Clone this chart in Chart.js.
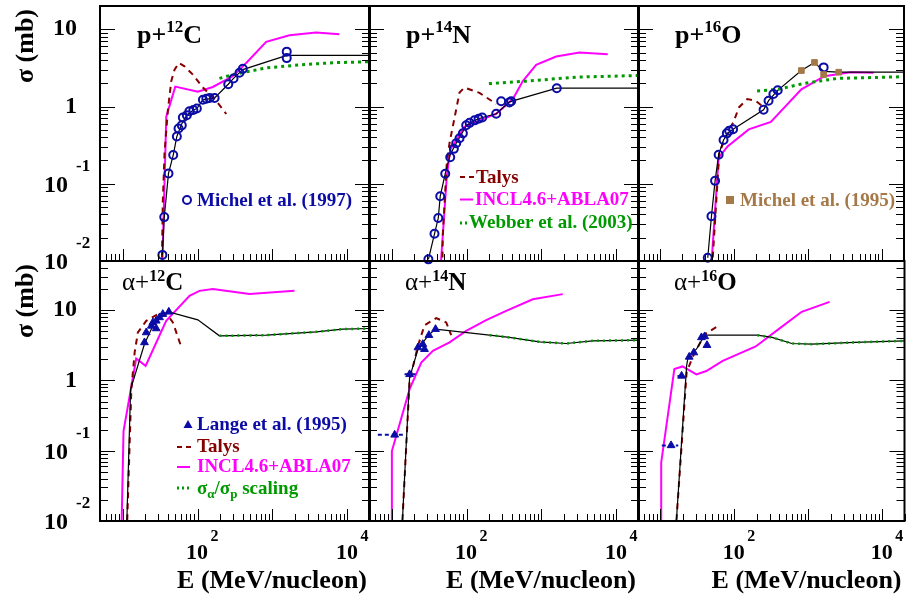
<!DOCTYPE html>
<html><head><meta charset="utf-8">
<script src="https://cdn.jsdelivr.net/npm/chart.js@4.4.1/dist/chart.umd.min.js"></script>
<style>
html,body{margin:0;padding:0;background:#fff;}
#wrap{position:relative;width:910px;height:599px;overflow:hidden;}
canvas.c{position:absolute;left:0;top:0;}
</style></head>
<body><div id="wrap">
<canvas class="c" id="c0" width="910" height="599"></canvas>
<canvas class="c" id="c1" width="910" height="599"></canvas>
<canvas class="c" id="c2" width="910" height="599"></canvas>
<canvas class="c" id="c3" width="910" height="599"></canvas>
<canvas class="c" id="c4" width="910" height="599"></canvas>
<canvas class="c" id="c5" width="910" height="599"></canvas>
</div>
<script>
// ---------------- DATA (E in MeV/nucleon, sigma in mb) ----------------
const xRange = [5, 20000];
const yRangeP = [0.01, 20];
const yRangeA = [0.01, 50];
const xTickLabels = [[100, '2'], [10000, '4']];
const yTickLabels = [[10, '10', ''], [1, '1', ''], [0.1, '10', '-1'], [0.01, '10', '-2']];
const panelTitles = [['p+', '12', 'C'], ['p+', '14', 'N'], ['p+', '16', 'O'], ['α+', '12', 'C'], ['α+', '14', 'N'], ['α+', '16', 'O']];

// p + 12C
const pC_michel_E = [34, 36, 41, 47.4, 53, 55.8, 61.7, 63.7, 72, 78, 88, 98, 118, 131, 145, 169, 257, 302, 363, 402, 1550, 1550];
const pC_michel_S = [0.012, 0.037, 0.136, 0.235, 0.41, 0.52, 0.57, 0.72, 0.77, 0.87, 0.9, 0.94, 1.22, 1.26, 1.29, 1.29, 1.94, 2.31, 2.73, 3.07, 5.13, 4.23];
const pC_fit_E = [34, 36, 41, 47.4, 53, 61.7, 72, 88, 98, 118, 169, 257, 302, 402, 1550, 20000];
const pC_fit_S = [0.012, 0.037, 0.136, 0.235, 0.41, 0.6, 0.77, 0.9, 0.94, 1.22, 1.29, 1.94, 2.31, 3.0, 4.6, 4.6];
const pC_talys_E = [33.4, 34.4, 36.3, 40.2, 44.6, 49.4, 56.4, 67.1, 86.7, 118, 177, 242];
const pC_talys_S = [0.008, 0.058, 0.25, 0.89, 2.13, 3.0, 3.66, 3.31, 2.59, 1.76, 1.19, 0.8];
const pC_incl_E = [33.8, 38.3, 50.5, 101, 160, 296, 446, 824, 1686, 3830, 7820];
const pC_incl_S = [0.008, 0.74, 1.81, 1.55, 1.79, 2.47, 3.66, 6.87, 8.35, 9.05, 8.6];
const pC_webber_E = [196, 296, 824, 2291, 6370, 20000];
const pC_webber_S = [2.31, 2.59, 3.16, 3.45, 3.69, 3.8];

// p + 14N
const pN_michel_E = [31, 37.4, 42, 44.6, 52, 60.6, 67.8, 72.8, 80.7, 89.4, 99, 110, 128, 145, 162, 249, 290, 374, 394, 1600];
const pN_michel_S = [0.0105, 0.0225, 0.036, 0.069, 0.135, 0.22, 0.283, 0.335, 0.388, 0.449, 0.572, 0.614, 0.662, 0.696, 0.722, 0.805, 1.17, 1.13, 1.17, 1.72];
const pN_fit_E = [31, 37.4, 42, 44.6, 52, 60.6, 72.8, 89.4, 99, 128, 162, 249, 374, 1600, 20000];
const pN_fit_S = [0.0105, 0.0225, 0.036, 0.069, 0.135, 0.24, 0.335, 0.47, 0.57, 0.66, 0.72, 0.805, 1.15, 1.73, 1.73];
const pN_talys_E = [47.5, 48.3, 54.6, 59.3, 80.7, 94, 149, 249];
const pN_talys_S = [0.008, 0.022, 0.187, 0.335, 1.52, 1.76, 1.5, 1.08];
const pN_incl_E = [45, 54.6, 60.6, 94, 149, 249, 415, 564, 849, 1570, 3210, 7660];
const pN_incl_S = [0.008, 0.126, 0.275, 0.547, 0.662, 0.805, 1.25, 2.13, 3.47, 4.44, 4.99, 4.75];
const pN_webber_E = [199, 625, 2900, 20000];
const pN_webber_S = [1.98, 2.13, 2.4, 2.52];

// p + 16O
const pO_michel97_E = [44, 49.4, 55.3, 61.8, 72, 79.8, 85.8, 97, 251, 293, 341, 390, 1633];
const pO_michel97_S = [0.011, 0.038, 0.109, 0.238, 0.369, 0.449, 0.486, 0.508, 0.906, 1.19, 1.45, 1.62, 3.21];
const pO_michel95_E = [815, 1227, 1633, 2616];
const pO_michel95_S = [2.92, 3.72, 2.59, 2.78];
const pO_fit_E = [44, 49.4, 55.3, 61.8, 72, 85.8, 97, 251, 293, 390, 815, 1227, 1633, 2616, 20000];
const pO_fit_S = [0.011, 0.038, 0.109, 0.238, 0.369, 0.47, 0.508, 0.906, 1.19, 1.62, 2.92, 3.72, 2.85, 2.78, 2.78];
const pO_talys_E = [50.4, 63, 77.4, 98, 117, 151, 195, 251];
const pO_talys_S = [0.008, 0.25, 0.41, 0.63, 0.98, 1.25, 1.19, 0.98];
const pO_incl_E = [48.9, 61.8, 81.5, 158, 315, 815, 1668, 3780, 7740];
const pO_incl_S = [0.008, 0.216, 0.304, 0.505, 0.63, 1.67, 2.47, 2.78, 2.73];
const pO_webber_E = [205, 398, 903, 2512, 20000];
const pO_webber_S = [1.59, 1.67, 2.0, 2.31, 2.43];

// alpha + 12C
const aC_lange_E = [19.6, 20.7, 24.2, 25.4, 28.1, 28.1, 31.1, 34.4, 41.4];
const aC_lange_S = [3.47, 4.81, 5.97, 6.68, 7.05, 5.48, 7.87, 8.77, 9.46];
const aC_fit_E = [11.2, 12.8, 19.6, 25.4, 31.1, 41.4, 101, 196, 824, 3830, 8650, 20000];
const aC_fit_S = [0.005, 0.75, 3.3, 6.0, 7.8, 9.46, 7.28, 4.31, 4.4, 4.91, 5.36, 5.48];
const aC_talys_E = [11.3, 13.1, 14.5, 16, 20.7, 31.1, 38.2, 46.9, 60.7];
const aC_talys_S = [0.005, 0.75, 2.5, 4.81, 7.05, 9.06, 9.06, 6.68, 3.0];
const aC_incl_E = [9.6, 10.3, 15.2, 20.3, 38.2, 78.2, 106, 160, 494, 1965];
const aC_incl_S = [0.005, 0.19, 2.05, 1.61, 7.05, 16, 18.8, 19.9, 16.9, 18.8];
const aC_scal_E = [196, 824, 3830, 8650, 20000];
const aC_scal_S = [4.31, 4.4, 4.91, 5.36, 5.48];

// alpha + 14N
const aN_lange_E = [11, 17.4, 22.5, 26.1, 27.5, 31.5, 38.6];
const aN_lange_S = [0.168, 1.22, 2.94, 3.28, 2.78, 4.4, 5.36];
const aN_errLo_E = [6.56, 14.9];
const aN_errHi_E = [14.9, 21.4];
const aN_fit_E = [13.5, 17.4, 22.5, 30.5, 38.6, 203, 374, 940, 2130, 4830, 20000];
const aN_fit_S = [0.005, 1.1, 2.78, 4.31, 5.36, 4.4, 4.09, 3.54, 3.35, 3.66, 3.74];
const aN_talys_E = [13.5, 17.4, 22.5, 27.5, 39.4, 53.6, 62.5];
const aN_talys_S = [0.005, 1.0, 3.1, 6.1, 7.69, 6.68, 4.4];
const aN_incl_E = [10.1, 10.1, 17.4, 24.9, 35.6, 59.3, 99, 183, 338, 766, 1923];
const aN_incl_S = [0.005, 0.099, 0.75, 1.8, 2.63, 3.47, 5.07, 7.21, 9.77, 14.3, 16.9];
const aN_scal_E = [203, 374, 940, 2130, 4830, 20000];
const aN_scal_S = [4.4, 4.09, 3.54, 3.35, 3.66, 3.74];

// alpha + 16O
const aO_lange_E = [14, 19.4, 24.6, 28.4, 36, 39.8, 42.8];
const aO_lange_S = [0.119, 1.16, 2.16, 2.49, 4.09, 4.22, 3.17];
const aO_errLo_E = [10.5, 17.1];
const aO_errHi_E = [17.5, 21.5];
const aO_fit_E = [15.8, 22.7, 23.9, 30.8, 39.8, 205, 324, 600, 1107, 4190, 20000];
const aO_fit_S = [0.005, 1.61, 2.23, 2.78, 4.4, 4.4, 4.09, 3.35, 3.28, 3.47, 3.66];
const aO_talys_E = [15.8, 22.7, 27.8, 39.8, 63];
const aO_talys_S = [0.005, 1.3, 2.23, 4.55, 6.1];
const aO_incl_E = [10.3, 10.3, 15.5, 20, 30.8, 41.9, 69.8, 195, 398, 815, 1945];
const aO_incl_S = [0.005, 0.068, 1.45, 1.58, 1.22, 1.36, 1.9, 3.04, 5.36, 9.46, 13.1];
const aO_scal_E = [205, 324, 600, 1107, 4190, 20000];
const aO_scal_S = [4.4, 4.09, 3.35, 3.28, 3.47, 3.66];

// ---------------- STYLE ----------------
const COL = {blue:'#0b0ba6', talys:'#870000', incl:'#ff00ff', green:'#009a00', brown:'#a57848', black:'#000000'};
const SERIF = '"Liberation Serif","Times New Roman",serif';
const B = s => 'bold ' + s + 'px ' + SERIF;
const N = s => s + 'px ' + SERIF;

function pts(E, S) { return E.map((e, i) => ({x: e, y: S[i]})); }
function line(E, S, color, width, dash) {
  return {data: pts(E, S), showLine: true, borderColor: color, backgroundColor: color, borderWidth: width,
    borderDash: dash || [], pointRadius: 0, pointHoverRadius: 0, tension: 0, fill: false, clip: 1};
}
function marks(E, S, style, r, color, filled) {
  return {data: pts(E, S), showLine: false, pointStyle: style, pointRadius: r, pointHoverRadius: r,
    pointBorderWidth: filled ? 1 : 2, pointBorderColor: color,
    pointBackgroundColor: filled ? color : 'rgba(0,0,0,0)', clip: 5};
}
function errbars(lo, hi, S) {
  return lo.map((l, i) => line([l, hi[i]], [S[i], S[i]], COL.blue, 2, [4, 3]));
}

function rich(ctx, x, y, parts, color) {
  let cx = x;
  ctx.textAlign = 'left'; ctx.textBaseline = 'alphabetic';
  for (const p of parts) {
    ctx.font = p.f; ctx.fillStyle = p.c || color;
    ctx.fillText(p.t, cx, y + (p.dy || 0));
    cx += ctx.measureText(p.t).width;
  }
}
function txt(ctx, s, x, y, font, color, align, base) {
  ctx.font = font; ctx.fillStyle = color; ctx.textAlign = align; ctx.textBaseline = base; ctx.fillText(s, x, y);
}

// ---------------- LAYOUT ----------------
const colLeft = [100, 369, 638];
const colW = 270;
const rowTop = [1, 261];
const rowBot = [261, 521];

function legendSample(ctx, kind, x0, x1, y) {
  ctx.save();
  ctx.beginPath();
  if (kind === 'talys') { ctx.strokeStyle = COL.talys; ctx.lineWidth = 2; ctx.setLineDash([5, 4]); }
  if (kind === 'incl') { ctx.strokeStyle = COL.incl; ctx.lineWidth = 2; }
  if (kind === 'green') { ctx.strokeStyle = COL.green; ctx.lineWidth = 3; ctx.setLineDash([2, 3]); }
  ctx.moveTo(x0, y); ctx.lineTo(x1, y); ctx.stroke();
  ctx.restore();
}

function decoPlugin(idx) {
  const row = idx < 3 ? 0 : 1, col = idx % 3;
  return {
    id: 'deco' + idx,
    afterDraw(chart) {
      const ctx = chart.ctx, a = chart.chartArea, xs = chart.scales.x, ys = chart.scales.y;
      ctx.save();
      // ticks
      ctx.strokeStyle = '#000'; ctx.lineWidth = 1;
      ctx.beginPath();
      for (let n = -3; n <= 5; n++) for (let k = 1; k <= 9; k++) {
        const v = k * Math.pow(10, n);
        if (v >= ys.min * 0.999 && v <= ys.max * 1.001) {
          const y = Math.round(ys.getPixelForValue(v)) + 0.5;
          const len = k === 1 ? 15 : 8;
          ctx.moveTo(a.left, y); ctx.lineTo(a.left + len, y);
          ctx.moveTo(a.right, y); ctx.lineTo(a.right - len, y);
        }
        if (v >= xs.min * 0.999 && v <= xs.max * 1.001) {
          const x = Math.round(xs.getPixelForValue(v)) + 0.5;
          const len = k === 1 ? 12 : 7;
          ctx.moveTo(x, a.bottom); ctx.lineTo(x, a.bottom - len);
        }
      }
      ctx.stroke();
      // frame
      ctx.lineWidth = 2;
      ctx.strokeRect(a.left, a.top, a.right - a.left, a.bottom - a.top);

      // y tick labels & title
      if (col === 0) {
        for (const [v, base, ex] of yTickLabels) {
          const y = ys.getPixelForValue(v);
          if (!ex) txt(ctx, base, a.left - 23, y, B(24), '#000', 'right', 'middle');
          else {
            txt(ctx, base, a.left - 32, y + 2, B(24), '#000', 'right', 'middle');
            txt(ctx, ex, a.left - 24, y - 17, B(17), '#000', 'left', 'middle');
          }
        }
        ctx.save();
        ctx.translate(26, a.top + 3);
        ctx.rotate(-Math.PI / 2);
        txt(ctx, 'σ (mb)', 0, 0, B(26), '#000', 'right', 'middle');
        ctx.restore();
      }
      // x tick labels & title
      if (row === 1) {
        for (const [v, ex] of xTickLabels) {
          const x = xs.getPixelForValue(v);
          txt(ctx, '10', x - 0.5, a.bottom + 32, B(22), '#000', 'center', 'middle');
          txt(ctx, ex, x + 13, a.bottom + 16, B(16), '#000', 'left', 'middle');
        }
        txt(ctx, 'E (MeV/nucleon)', a.right - 3, 581, B(26), '#000', 'right', 'middle');
      }
      // panel title
      const t = panelTitles[idx];
      if (row === 0) {
        rich(ctx, a.left + 37, a.top + 37, [{t: t[0], f: B(26)}, {t: t[1], f: B(17), dy: -11}, {t: t[2], f: B(26)}], '#000');
      } else {
        const off = col === 0 ? 22 : 36;
        rich(ctx, a.left + off, a.top + 29, [{t: t[0], f: N(25)}, {t: t[1], f: B(16), dy: -9}, {t: t[2], f: B(25)}], '#000');
      }
      // legends
      if (idx === 0) {
        ctx.beginPath(); ctx.strokeStyle = COL.blue; ctx.lineWidth = 2; ctx.arc(187, 200, 4, 0, Math.PI * 2); ctx.stroke();
        txt(ctx, 'Michel et al. (1997)', 197, 201, B(19), COL.blue, 'left', 'middle');
      }
      if (idx === 1) {
        legendSample(ctx, 'talys', a.left + 91, a.left + 105, 177);
        txt(ctx, 'Talys', a.left + 107, 178, B(19), COL.talys, 'left', 'middle');
        legendSample(ctx, 'incl', a.left + 91, a.left + 104, 199.5);
        txt(ctx, 'INCL4.6+ABLA07', a.left + 106, 200, B(19), COL.incl, 'left', 'middle');
        legendSample(ctx, 'green', a.left + 91, a.left + 99, 223);
        txt(ctx, 'Webber et al. (2003)', a.left + 100, 223, B(19), COL.green, 'left', 'middle');
      }
      if (idx === 2) {
        ctx.fillStyle = COL.brown; ctx.fillRect(a.left + 88, 196, 8, 8);
        txt(ctx, 'Michel et al. (1995)', a.left + 102, 201, B(19), COL.brown, 'left', 'middle');
      }
      if (idx === 3) {
        ctx.fillStyle = COL.blue; ctx.beginPath();
        ctx.moveTo(188, 420); ctx.lineTo(192.5, 428); ctx.lineTo(183.5, 428); ctx.closePath(); ctx.fill();
        txt(ctx, 'Lange et al. (1995)', 197, 425, B(19), COL.blue, 'left', 'middle');
        legendSample(ctx, 'talys', 177, 191, 447);
        txt(ctx, 'Talys', 197, 447, B(19), COL.talys, 'left', 'middle');
        legendSample(ctx, 'incl', 177, 190, 467);
        txt(ctx, 'INCL4.6+ABLA07', 197, 467, B(19), COL.incl, 'left', 'middle');
        legendSample(ctx, 'green', 177, 190, 488);
        rich(ctx, 197, 494, [{t: 'σ', f: B(19)}, {t: 'α', f: B(13), dy: 4}, {t: '/σ', f: B(19)}, {t: 'p', f: B(13), dy: 4}, {t: ' scaling', f: B(19)}], COL.green);
      }
      ctx.restore();
    }
  };
}

const panelData = [
  [ marks(pC_michel_E, pC_michel_S, 'circle', 4, COL.blue, false),
    line(pC_webber_E, pC_webber_S, COL.green, 3, [3, 4]),
    line(pC_fit_E, pC_fit_S, COL.black, 1.2),
    line(pC_talys_E, pC_talys_S, COL.talys, 2, [6, 5]),
    line(pC_incl_E, pC_incl_S, COL.incl, 2) ],
  [ marks(pN_michel_E, pN_michel_S, 'circle', 4, COL.blue, false),
    line(pN_webber_E, pN_webber_S, COL.green, 3, [3, 4]),
    line(pN_fit_E, pN_fit_S, COL.black, 1.2),
    line(pN_talys_E, pN_talys_S, COL.talys, 2, [6, 5]),
    line(pN_incl_E, pN_incl_S, COL.incl, 2) ],
  [ marks(pO_michel95_E, pO_michel95_S, 'rect', 4, COL.brown, true),
    marks(pO_michel97_E, pO_michel97_S, 'circle', 4, COL.blue, false),
    line(pO_webber_E, pO_webber_S, COL.green, 3, [3, 4]),
    line(pO_fit_E, pO_fit_S, COL.black, 1.2),
    line(pO_talys_E, pO_talys_S, COL.talys, 2, [6, 5]),
    line(pO_incl_E, pO_incl_S, COL.incl, 2) ],
  [ marks(aC_lange_E, aC_lange_S, 'triangle', 4.5, COL.blue, true),
    line(aC_scal_E, aC_scal_S, COL.green, 2.5, [2, 4]),
    line(aC_fit_E, aC_fit_S, COL.black, 1.2),
    line(aC_talys_E, aC_talys_S, COL.talys, 2, [6, 5]),
    line(aC_incl_E, aC_incl_S, COL.incl, 2) ],
  [ marks(aN_lange_E, aN_lange_S, 'triangle', 4.5, COL.blue, true),
    ...errbars(aN_errLo_E, aN_errHi_E, aN_lange_S),
    line(aN_scal_E, aN_scal_S, COL.green, 2.5, [2, 4]),
    line(aN_fit_E, aN_fit_S, COL.black, 1.2),
    line(aN_talys_E, aN_talys_S, COL.talys, 2, [6, 5]),
    line(aN_incl_E, aN_incl_S, COL.incl, 2) ],
  [ marks(aO_lange_E, aO_lange_S, 'triangle', 4.5, COL.blue, true),
    ...errbars(aO_errLo_E, aO_errHi_E, aO_lange_S),
    line(aO_scal_E, aO_scal_S, COL.green, 2.5, [2, 4]),
    line(aO_fit_E, aO_fit_S, COL.black, 1.2),
    line(aO_talys_E, aO_talys_S, COL.talys, 2, [6, 5]),
    line(aO_incl_E, aO_incl_S, COL.incl, 2) ]
];

for (let i = 0; i < 6; i++) {
  const row = i < 3 ? 0 : 1, col = i % 3;
  const left = colLeft[col], right = 910 - (left + colW);
  const yr = row === 0 ? yRangeP : yRangeA;
  new Chart(document.getElementById('c' + i), {
    type: 'scatter',
    data: {datasets: panelData[i]},
    options: {
      responsive: false, animation: false, devicePixelRatio: 1, events: [],
      layout: {padding: {left: left, right: right, top: rowTop[row], bottom: 599 - rowBot[row]}},
      scales: {
        x: {type: 'logarithmic', min: xRange[0], max: xRange[1], display: false},
        y: {type: 'logarithmic', min: yr[0], max: yr[1], display: false}
      },
      plugins: {legend: {display: false}, tooltip: {enabled: false}, title: {display: false}}
    },
    plugins: [decoPlugin(i)]
  });
}
</script>
</body></html>
